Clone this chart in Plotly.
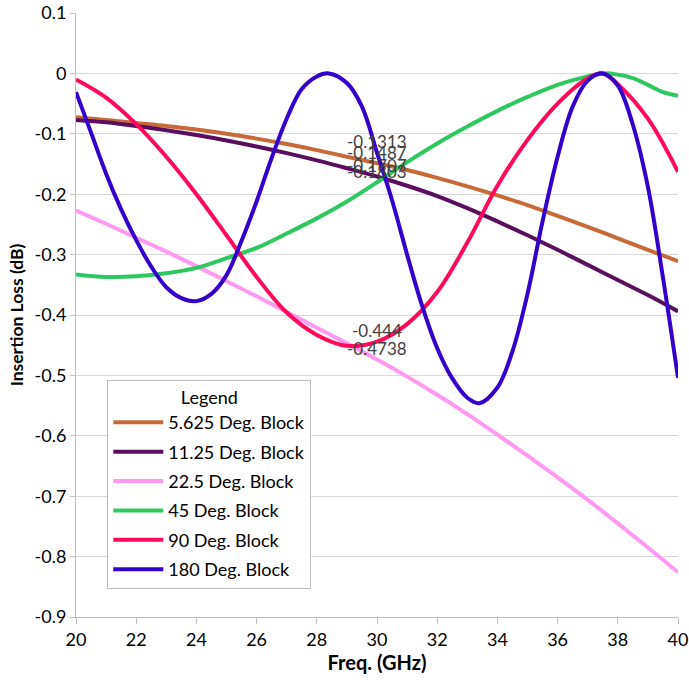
import plotly.graph_objects as go

# ---- data ----
x_1ghz = [20, 21, 22, 23, 24, 25, 26, 27, 28, 29, 30, 31, 32, 33, 34, 35, 36, 37, 38, 39, 40]

y_5625 = [-0.0725, -0.077, -0.082, -0.087, -0.093, -0.100, -0.108, -0.117, -0.127, -0.138,
          -0.1487, -0.160, -0.173, -0.187, -0.202, -0.218, -0.236, -0.254, -0.273, -0.292, -0.311]

y_1125 = [-0.077, -0.081, -0.087, -0.094, -0.102, -0.111, -0.121, -0.132, -0.144, -0.157,
          -0.1707, -0.186, -0.203, -0.223, -0.245, -0.268, -0.292, -0.317, -0.342, -0.367, -0.394]

y_225 = [-0.227, -0.249, -0.272, -0.295, -0.319, -0.344, -0.369, -0.395, -0.421, -0.447,
         -0.4738, -0.502, -0.532, -0.564, -0.598, -0.633, -0.669, -0.706, -0.745, -0.785, -0.826]

x_45 = [20, 21, 22, 23, 24, 25, 26, 27, 28, 29, 30, 31, 32, 33, 34, 35, 36, 37, 37.5, 38, 38.5, 39, 39.5, 40]
y_45 = [-0.333, -0.337, -0.336, -0.331, -0.322, -0.306, -0.289, -0.265, -0.240, -0.212,
        -0.1803, -0.147, -0.116, -0.088, -0.062, -0.039, -0.019, -0.005, 0.0, -0.002, -0.008,
        -0.019, -0.031, -0.037]

x_90 = [20, 21, 22, 23, 24, 25, 26, 27, 28, 29, 30, 31, 32, 33, 34, 35, 36, 37, 37.5, 38, 39, 40]
y_90 = [-0.010, -0.040, -0.084, -0.138, -0.200, -0.268, -0.337, -0.396, -0.433, -0.451,
        -0.444, -0.415, -0.362, -0.280, -0.186, -0.110, -0.050, -0.008, 0.0, -0.018, -0.075, -0.163]

x_180 = [20, 20.5, 21, 21.5, 22, 22.5, 23, 23.5, 24, 24.5, 25, 25.5, 26, 26.5, 27, 27.5, 28, 28.4,
         29, 29.5, 30, 30.5, 31, 31.5, 32, 32.5, 33, 33.4, 34, 34.5, 35, 35.5, 36, 36.5, 37, 37.5,
         38, 38.5, 39, 39.5, 40]
y_180 = [-0.031, -0.098, -0.166, -0.225, -0.276, -0.320, -0.354, -0.372, -0.377, -0.365, -0.334,
         -0.277, -0.212, -0.140, -0.075, -0.026, -0.005, 0.0, -0.016, -0.055, -0.1313, -0.210,
         -0.300, -0.385, -0.455, -0.505, -0.537, -0.546, -0.520, -0.460, -0.365, -0.245, -0.138,
         -0.055, -0.012, 0.0, -0.020, -0.085, -0.188, -0.338, -0.504]

series = [
    ("5.625 Deg. Block", x_1ghz, y_5625, "#C8693A"),
    ("11.25 Deg. Block", x_1ghz, y_1125, "#5A0E5E"),
    ("22.5 Deg. Block", x_1ghz, y_225, "#FF99F2"),
    ("45 Deg. Block", x_45, y_45, "#2DC85F"),
    ("90 Deg. Block", x_90, y_90, "#FF0A5A"),
    ("180 Deg. Block", x_180, y_180, "#3300CC"),
]

label_x = 30
labels = ["-0.1313", "-0.1487", "-0.1707", "-0.1803", "-0.444", "-0.4738"]
label_vals = [-0.1313, -0.1487, -0.1707, -0.1803, -0.444, -0.4738]

x_ticks = [20, 22, 24, 26, 28, 30, 32, 34, 36, 38, 40]
y_ticks = [0.1, 0, -0.1, -0.2, -0.3, -0.4, -0.5, -0.6, -0.7, -0.8, -0.9]
y_ticktext = ["0.1", "0", "-0.1", "-0.2", "-0.3", "-0.4", "-0.5", "-0.6", "-0.7", "-0.8", "-0.9"]

FONT = "Lato, 'Open Sans', sans-serif"

fig = go.Figure()
for name, xs, ys, col in series:
    fig.add_trace(go.Scatter(x=xs, y=ys, name=name, mode="lines", legendgroup=name,
                             line=dict(color=col, width=4, shape="spline", smoothing=1.0)))

for txt, v in zip(labels, label_vals):
    fig.add_annotation(x=label_x, y=v, text=txt, showarrow=False, yshift=11,
                       font=dict(family=FONT, size=17, color="#404040"))

fig.update_layout(
    width=689, height=689,
    margin=dict(l=76, r=11, t=13, b=72),
    paper_bgcolor="white", plot_bgcolor="white",
    font=dict(family=FONT, size=17, color="#404040"),
    showlegend=True,
    legend=dict(
        x=0.052, y=0.393, xanchor="left", yanchor="top",
        bordercolor="#BFBFBF", borderwidth=1, bgcolor="white",
        font=dict(family=FONT, size=18, color="#000000"),
        title=dict(text="Legend", side="top center", font=dict(family=FONT, size=18, color="#000000")),
        itemwidth=50, tracegroupgap=3,
    ),
)
fig.update_xaxes(
    range=[20, 40], tickvals=x_ticks, ticktext=[str(t) for t in x_ticks],
    showgrid=False, showline=True, linecolor="#BFBFBF", linewidth=1,
    ticks="outside", ticklen=6, tickcolor="#BFBFBF",
    tickfont=dict(family=FONT, size=18, color="#000000"),
    title=dict(text="<b>Freq. (GHz)</b>", font=dict(family=FONT, size=20, color="#000000"), standoff=6),
    zeroline=False, automargin=False,
)
fig.update_yaxes(
    range=[-0.9, 0.1], tickvals=y_ticks, ticktext=y_ticktext,
    showgrid=True, gridcolor="#D9D9D9", gridwidth=1,
    showline=True, linecolor="#BFBFBF", linewidth=1,
    ticks="outside", ticklen=5, tickcolor="#BFBFBF",
    tickfont=dict(family=FONT, size=18, color="#000000"),
    title=dict(text="<b>Insertion Loss (dB)</b>", font=dict(family=FONT, size=17.5, color="#000000"), standoff=6),
    zeroline=False, automargin=False,
)

fig.write_html("out.html")
